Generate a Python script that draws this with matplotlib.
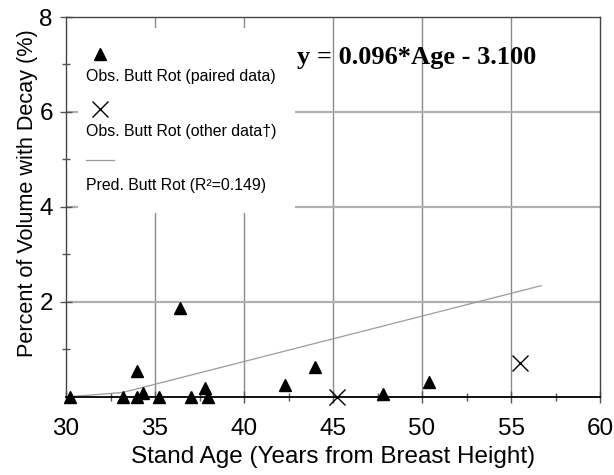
import numpy as np
import matplotlib.pyplot as plt
from matplotlib.patches import Rectangle

# observed butt rot, paired data
paired_age = [30.2, 33.2, 34.0, 34.0, 34.3, 35.2, 36.4, 37.0, 37.8, 38.0, 42.3, 44.0, 47.8, 50.4]
paired_rot = [0.0, 0.0, 0.55, 0.0, 0.07, 0.0, 1.87, 0.0, 0.19, 0.0, 0.25, 0.63, 0.05, 0.32]

# observed butt rot, other data
other_age = [45.2, 55.5]
other_rot = [0.0, 0.72]

# predicted butt rot (fit clipped at zero)
pred_age = [30.2, 33.2, 56.7]
pred_rot = [0.0, 0.09, 2.34]

x_ticks = [30, 35, 40, 45, 50, 55, 60]
y_ticks = [2, 4, 6, 8]

plt.rcParams['font.family'] = ['Liberation Sans', 'DejaVu Sans']

fig = plt.figure(figsize=(6.14, 4.75), dpi=100)
ax = fig.add_axes([0.1075, 0.1648, 0.8697, 0.7994])

ax.set_xlim(30, 60)
ax.set_ylim(0, 8)
ax.set_xticks(x_ticks)
ax.set_yticks(y_ticks)
ax.set_xticks(np.arange(32.5, 60, 5), minor=True)
ax.set_yticks([1, 3, 5, 7], minor=True)
ax.tick_params(axis='both', which='both', direction='inout', labelsize=17.5,
               color='#555555', width=1)
ax.tick_params(which='major', length=9)
ax.tick_params(which='minor', length=6)
ax.tick_params(axis='x', pad=11)
ax.tick_params(axis='y', pad=5)

# grid lines
for xv in x_ticks[1:-1]:
    ax.axvline(xv, color='#8a8a8a', lw=1.0, zorder=0)
for yv in y_ticks[:-1]:
    ax.axhline(yv, color='#b0b0b0', lw=1.6, zorder=0)

for side in ['top', 'right', 'left']:
    ax.spines[side].set_color('#444444')
    ax.spines[side].set_linewidth(1.0)
ax.spines['bottom'].set_color('black')
ax.spines['bottom'].set_linewidth(1.3)

ax.set_xlabel('Stand Age (Years from Breast Height)', fontsize=17.5, labelpad=4.5)
ax.set_ylabel('Percent of Volume with Decay (%)', fontsize=15.6)
ax.yaxis.set_label_coords(-0.053, 0.537)

ax.plot(pred_age, pred_rot, color='#9a9a9a', lw=0.9, zorder=2)
ax.plot(paired_age, paired_rot, '^', color='black', ms=8, clip_on=False, zorder=4)
ax.plot(other_age, other_rot, 'x', color='black', ms=12, mew=1.0, clip_on=False, zorder=4)

# legend box drawn by hand: marker above each label
ax.add_patch(Rectangle((0.0225, 0.483), 0.4065, 0.488, transform=ax.transAxes,
                       facecolor='white', edgecolor='none', zorder=1))
ax.plot([0.063], [0.903], '^', color='black', ms=8, transform=ax.transAxes, zorder=3)
ax.plot([0.063], [0.758], 'x', color='black', ms=12, mew=1.0, transform=ax.transAxes, zorder=3)
ax.plot([0.0375, 0.090], [0.6245, 0.6245], color='#9a9a9a', lw=0.9,
        transform=ax.transAxes, zorder=3)
leg_labels = ['Obs. Butt Rot (paired data)', 'Obs. Butt Rot (other data\u2020)',
              'Pred. Butt Rot (R\u00b2=0.149)']
for lab, yy in zip(leg_labels, [0.844, 0.699, 0.556]):
    ax.text(0.0375, yy, lab, transform=ax.transAxes, fontsize=11.4,
            va='center', ha='left', zorder=3)

ax.text(0.432, 0.893, 'y = 0.096*Age - 3.100', transform=ax.transAxes,
        fontsize=19, fontweight='bold', family='Liberation Serif',
        va='center', ha='left', zorder=3)

fig.savefig('out.png', dpi=100)
